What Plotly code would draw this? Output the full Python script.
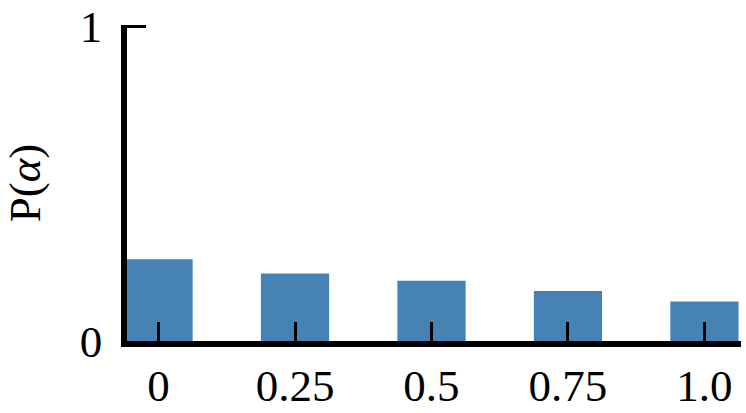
import plotly.graph_objects as go

alpha = [0, 0.25, 0.5, 0.75, 1.0]
alpha_labels = ["0", "0.25", "0.5", "0.75", "1.0"]
prob = [0.260, 0.215, 0.192, 0.159, 0.126]
y_ticks = [0, 1]
y_tick_labels = ["0", "1"]

FONT = "Liberation Serif"
FS = 45

fig = go.Figure(
    go.Bar(x=alpha, y=prob, width=0.125, marker=dict(color="#4682B4", line=dict(width=0)))
)

fig.update_layout(
    width=746,
    height=413,
    margin=dict(l=127, r=5, t=25, b=72, autoexpand=False),
    plot_bgcolor="rgba(0,0,0,0)",
    paper_bgcolor="white",
    showlegend=False,
    font=dict(family=FONT, size=FS, color="black"),
)

fig.update_xaxes(
    range=[-0.0578, 1.067],
    tickvals=alpha,
    ticktext=alpha_labels,
    ticks="inside",
    ticklen=19,
    tickwidth=3,
    tickcolor="black",
    showline=True,
    linewidth=5.5,
    linecolor="black",
    showgrid=False,
    zeroline=False,
    layer="above traces",
    automargin=False,
    tickfont=dict(family=FONT, size=FS),
)

fig.update_yaxes(
    range=[0, 1.005],
    tickvals=y_ticks,
    ticktext=y_tick_labels,
    ticks="inside",
    ticklen=19,
    tickwidth=3,
    tickcolor="black",
    showline=True,
    linewidth=5.5,
    linecolor="black",
    showgrid=False,
    zeroline=False,
    layer="below traces",
    automargin=False,
    ticklabelstandoff=10,
    tickfont=dict(family=FONT, size=FS),
    title=dict(text="P(<i>α</i>)", font=dict(family=FONT, size=FS), standoff=30),
)

fig.write_html(
    "out.html",
    config={"displayModeBar": False},
    post_script="document.body.style.margin='0';",
)
